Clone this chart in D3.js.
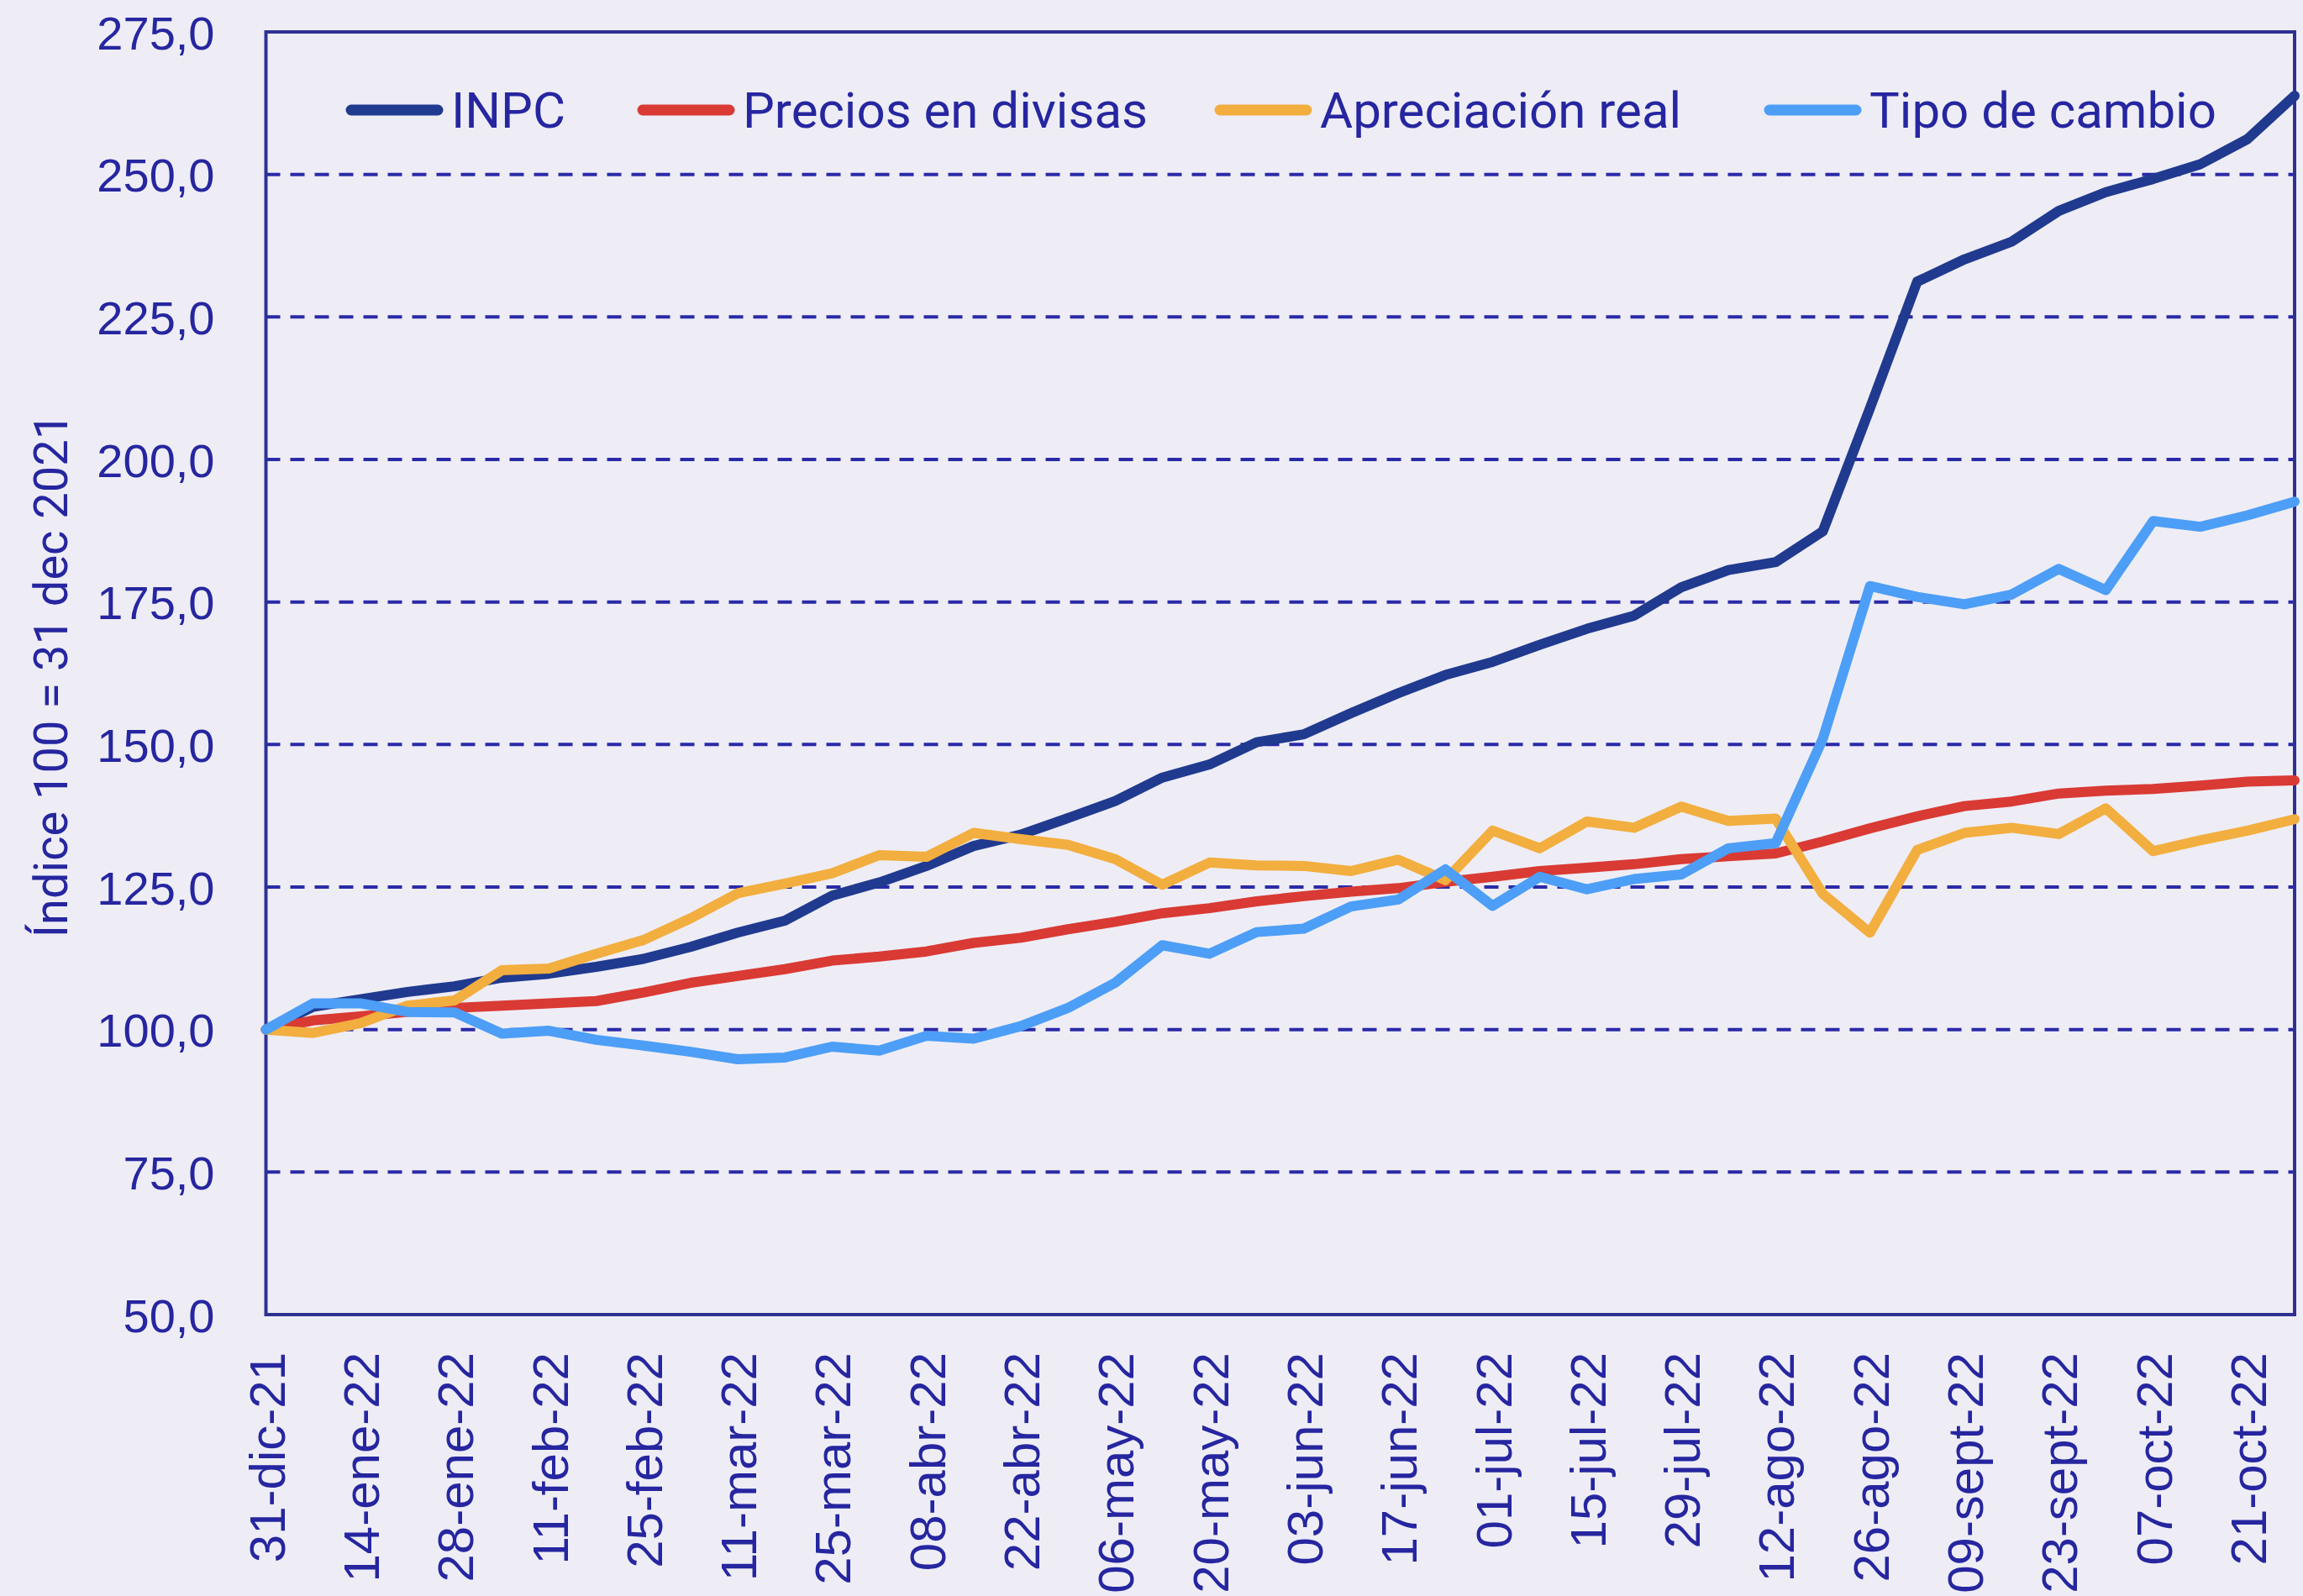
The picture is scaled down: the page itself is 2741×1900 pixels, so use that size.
<!DOCTYPE html>
<html>
<head>
<meta charset="utf-8">
<script src="https://cdn.jsdelivr.net/npm/d3@7"></script>
<style>
  body { margin: 0; background: #eeedf6; }
  svg { display: block; font-family: Roboto, "Noto Sans", sans-serif; }
</style>
</head>
<body>
<svg id="chart" width="2741" height="1900"></svg>
<script>
// semanas (viernes) desde el 31-dic-21
const fechas = [
  "31-dic-21", "07-ene-22", "14-ene-22", "21-ene-22", "28-ene-22", "04-feb-22",
  "11-feb-22", "18-feb-22", "25-feb-22", "04-mar-22", "11-mar-22", "18-mar-22",
  "25-mar-22", "01-abr-22", "08-abr-22", "15-abr-22", "22-abr-22", "29-abr-22",
  "06-may-22", "13-may-22", "20-may-22", "27-may-22", "03-jun-22", "10-jun-22",
  "17-jun-22", "24-jun-22", "01-jul-22", "08-jul-22", "15-jul-22", "22-jul-22",
  "29-jul-22", "05-ago-22", "12-ago-22", "19-ago-22", "26-ago-22", "02-sept-22",
  "09-sept-22", "16-sept-22", "23-sept-22", "30-sept-22", "07-oct-22", "14-oct-22",
  "21-oct-22", "28-oct-22"
];

const inpc = [
  100, 104.0, 105.3, 106.6, 107.6, 109.1, 109.8, 111.0, 112.4, 114.5, 117.0, 119.1,
  123.5, 125.8, 128.7, 132.2, 134.2, 137.1, 140.1, 144.2, 146.5, 150.4, 151.8, 155.5,
  159.0, 162.2, 164.5, 167.5, 170.3, 172.6, 177.6, 180.6, 182.0, 187.4, 209.0, 231.2,
  235.1, 238.2, 243.6, 246.9, 249.2, 251.8, 256.2, 263.8
];

const preciosDivisas = [
  100, 101.6, 102.3, 103.1, 103.8, 104.2, 104.6, 105.0, 106.5, 108.2, 109.4, 110.6,
  112.1, 112.8, 113.7, 115.2, 116.1, 117.6, 118.9, 120.4, 121.3, 122.5, 123.4, 124.2,
  124.8, 125.9, 126.8, 127.8, 128.4, 129.0, 129.9, 130.4, 130.9, 133.0, 135.3, 137.4,
  139.2, 140.0, 141.4, 141.9, 142.2, 142.8, 143.5, 143.7
];

const apreciacionReal = [
  100, 99.4, 101.1, 104.2, 105.1, 110.4, 110.7, 113.3, 115.7, 119.5, 123.9, 125.6,
  127.4, 130.6, 130.3, 134.5, 133.4, 132.4, 129.9, 125.4, 129.3, 128.8, 128.7, 127.8,
  129.8, 126.2, 134.9, 131.8, 136.5, 135.4, 139.1, 136.6, 137.0, 123.8, 117.0, 131.5,
  134.5, 135.4, 134.3, 138.8, 131.3, 133.2, 134.9, 136.9
];

const tipoCambio = [
  100, 104.6, 104.6, 103.1, 103.0, 99.3, 99.8, 98.2, 97.2, 96.1, 94.8, 95.1,
  97.0, 96.3, 98.9, 98.4, 100.6, 103.8, 108.2, 114.8, 113.3, 117.1, 117.7, 121.6,
  122.8, 128.1, 121.7, 126.8, 124.6, 126.4, 127.2, 131.8, 132.7, 151.0, 177.8, 175.9,
  174.6, 176.3, 180.8, 177.1, 189.2, 188.2, 190.2, 192.6
];

const nombres = ["INPC", "Precios en divisas", "Apreciación real", "Tipo de cambio"];
const colores = ["#203a8f", "#d93a34", "#f2ae3f", "#4d9ef6"];
const yTicks = [50, 75, 100, 125, 150, 175, 200, 225, 250, 275];

const series = [inpc, preciosDivisas, apreciacionReal, tipoCambio];
const azul = "#2626a0";
const ejeColor = "#2e3192";

const svg = d3.select("#chart");
const m = { left: 316.5, right: 2731, top: 38, bottom: 1565 };

const x = d3.scalePoint().domain(fechas).range([m.left, m.right]);
const y = d3.scaleLinear().domain([50, 275]).range([m.bottom, m.top]);

const es = d3.formatLocale({ decimal: ",", thousands: ".", grouping: [3], currency: ["", " €"] });
const fmt = es.format(".1f");

// rejilla punteada
svg.append("g")
  .selectAll("line")
  .data(yTicks.filter(d => d > 50 && d < 275))
  .join("line")
  .attr("x1", m.left)
  .attr("x2", m.right)
  .attr("y1", d => y(d))
  .attr("y2", d => y(d))
  .style("stroke", "#2a2aa8")
  .style("stroke-width", 4)
  .style("stroke-dasharray", "17 12");

// eje y
const yAxis = svg.append("g")
  .attr("transform", "translate(" + m.left + ",0)")
  .call(d3.axisLeft(y).tickValues(yTicks).tickFormat(fmt).tickSize(0).tickPadding(61));
yAxis.select(".domain").remove();
yAxis.selectAll("text")
  .style("font-size", "56px")
  .style("fill", azul)
  .attr("dy", "0.36em");

// eje x, una etiqueta cada dos semanas
const xAxis = svg.append("g")
  .attr("transform", "translate(0," + m.bottom + ")")
  .call(d3.axisBottom(x).tickValues(fechas.filter((d, i) => i % 2 == 0)).tickSize(0));
xAxis.select(".domain").remove();
xAxis.selectAll("text")
  .style("font-size", "60px")
  .style("fill", azul)
  .style("text-anchor", "end")
  .attr("transform", "rotate(-90)")
  .attr("x", -45)
  .attr("y", 0)
  .attr("dy", "0.36em");

// marco
svg.append("rect")
  .attr("x", m.left)
  .attr("y", m.top)
  .attr("width", m.right - m.left)
  .attr("height", m.bottom - m.top)
  .style("fill", "none")
  .style("stroke", ejeColor)
  .style("stroke-width", 4);

// titulo eje y
svg.append("text")
  .attr("transform", "translate(80,804) rotate(-90)")
  .style("text-anchor", "middle")
  .style("font-size", "56px")
  .style("fill", azul)
  .text("Índice 100 = 31 dec 2021");

// lineas
const linea = d3.line()
  .x((d, i) => x(fechas[i]))
  .y(d => y(d));

svg.append("g")
  .selectAll("path")
  .data(series)
  .join("path")
  .attr("d", d => linea(d))
  .style("fill", "none")
  .style("stroke", (d, i) => colores[i])
  .style("stroke-width", 12)
  .style("stroke-linejoin", "round")
  .style("stroke-linecap", "round");

// leyenda
const legendX = [412, 759, 1446, 2100];
const leyenda = svg.append("g")
  .selectAll("g")
  .data(nombres)
  .join("g")
  .attr("transform", (d, i) => "translate(" + legendX[i] + ",131)");

leyenda.append("line")
  .attr("x1", 6)
  .attr("x2", 109)
  .style("stroke", (d, i) => colores[i])
  .style("stroke-width", 13)
  .style("stroke-linecap", "round");

leyenda.append("text")
  .attr("x", 125)
  .attr("y", 21)
  .style("font-size", "60px")
  .style("fill", azul)
  .text(d => d);
</script>
</body>
</html>
